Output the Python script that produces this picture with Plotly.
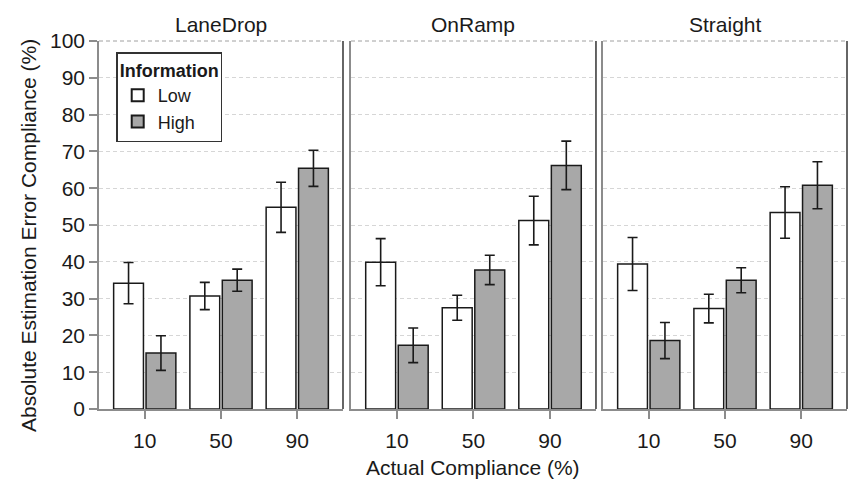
import plotly.graph_objects as go

panels = ["LaneDrop", "OnRamp", "Straight"]
categories = ["10", "50", "90"]

low_vals = {
    "LaneDrop": [34.2, 30.7, 54.8],
    "OnRamp": [39.9, 27.5, 51.2],
    "Straight": [39.4, 27.3, 53.4],
}
low_err = {
    "LaneDrop": [5.6, 3.7, 6.8],
    "OnRamp": [6.4, 3.4, 6.6],
    "Straight": [7.2, 3.9, 7.0],
}
high_vals = {
    "LaneDrop": [15.2, 35.0, 65.4],
    "OnRamp": [17.3, 37.8, 66.2],
    "Straight": [18.6, 35.0, 60.8],
}
high_err = {
    "LaneDrop": [4.7, 3.0, 4.9],
    "OnRamp": [4.7, 4.0, 6.6],
    "Straight": [4.9, 3.4, 6.4],
}
y_ticks = [0, 10, 20, 30, 40, 50, 60, 70, 80, 90, 100]

FONT = "Liberation Sans, Arial, sans-serif"
GRID = "#d6d6d6"
AXIS = "#8c8c8c"

fig = go.Figure()
domains = [[0.0, 0.3262], [0.3369, 0.6644], [0.6738, 1.0]]

for i, p in enumerate(panels):
    xa = "x" if i == 0 else f"x{i+1}"
    ya = "y" if i == 0 else f"y{i+1}"
    fig.add_trace(go.Bar(
        x=categories, y=low_vals[p], name="Low", legendgroup="Low",
        showlegend=(i == 0), xaxis=xa, yaxis=ya,
        marker=dict(color="white", line=dict(color="#1a1a1a", width=1.5)),
        error_y=dict(type="data", array=low_err[p], color="#1a1a1a", thickness=1.6, width=5),
    ))
    fig.add_trace(go.Bar(
        x=categories, y=high_vals[p], name="High", legendgroup="High",
        showlegend=(i == 0), xaxis=xa, yaxis=ya,
        marker=dict(color="#a8a8a8", line=dict(color="#1a1a1a", width=1.5)),
        error_y=dict(type="data", array=high_err[p], color="#1a1a1a", thickness=1.6, width=5),
    ))

layout = dict(
    width=848, height=479,
    paper_bgcolor="white", plot_bgcolor="white",
    margin=dict(l=99, r=1, t=41, b=70),
    barmode="group", bargap=0.15, bargroupgap=0.08,
    font=dict(family=FONT, size=21, color="#1a1a1a"),
    legend=dict(
        x=0.023, y=0.97, xref="paper", yref="paper",
        xanchor="left", yanchor="top",
        title=dict(text="<b>Information</b>", font=dict(size=18)),
        font=dict(size=18), bordercolor="#333333", borderwidth=1.5,
        bgcolor="white", tracegroupgap=0, itemsizing="constant",
    ),
)

shapes = []
annotations = []
for i, p in enumerate(panels):
    sx = "" if i == 0 else str(i + 1)
    layout[f"xaxis{sx}"] = dict(
        domain=domains[i], anchor=f"y{sx}", type="category",
        range=[-0.6, 2.6], showline=True, linecolor=AXIS, linewidth=1.5,
        ticks="outside", ticklen=8, tickcolor=AXIS, tickwidth=1.5,
        ticklabelstandoff=4,
        showgrid=False, tickfont=dict(size=21), zeroline=False,
    )
    layout[f"yaxis{sx}"] = dict(
        domain=[0, 1], anchor=f"x{sx}", range=[0, 100],
        tickvals=y_ticks, showticklabels=(i == 0),
        showline=True, linecolor=AXIS, linewidth=1.5,
        ticks="outside" if i == 0 else "", ticklen=8, tickcolor=AXIS, tickwidth=1.5,
        showgrid=True, gridcolor=GRID, griddash="4px,3px", gridwidth=1,
        zeroline=False, tickfont=dict(size=21),
    )
    xr = "x domain" if i == 0 else f"x{i+1} domain"
    yr = "y domain" if i == 0 else f"y{i+1} domain"
    shapes.append(dict(type="line", xref=xr, yref=yr, x0=1, x1=1, y0=0, y1=1,
                       line=dict(color="#333333", width=1.5)))
    shapes.append(dict(type="line", xref=xr, yref=yr, x0=0, x1=1, y0=1, y1=1,
                       line=dict(color="#a0a0a0", width=1, dash="4px,3px")))
    annotations.append(dict(
        text=p, xref=xr, yref="paper", x=0.5, y=1, yshift=3,
        xanchor="center", yanchor="bottom", showarrow=False,
        font=dict(size=21, color="#1a1a1a"),
    ))

annotations.append(dict(
    text="Actual Compliance (%)", xref="paper", yref="paper",
    x=0.5, y=0, yshift=-58, xanchor="center", yanchor="middle",
    showarrow=False, font=dict(size=21, color="#1a1a1a"),
))
annotations.append(dict(
    text="Absolute Estimation Error Compliance (%)", xref="paper", yref="paper",
    x=0, xshift=-71, y=0.47, xanchor="center", yanchor="middle", textangle=-90,
    showarrow=False, font=dict(size=21, color="#1a1a1a"),
))

layout["shapes"] = shapes
layout["annotations"] = annotations
fig.update_layout(**layout)
fig.write_html("out.html", config={"displayModeBar": False},
               post_script="document.body.style.margin='0';")
